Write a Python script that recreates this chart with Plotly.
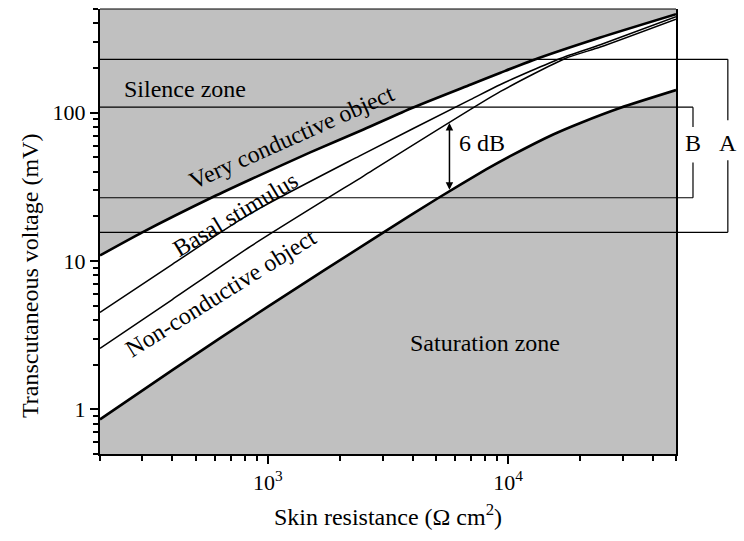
import numpy as np
import plotly.graph_objects as go

# Skin resistance (ohm cm^2) and transcutaneous voltage (mV) for each curve
very_cond_r = [200, 300, 590, 850, 1500, 2500, 4000, 7000, 9300, 12600, 24200, 50000]
very_cond_v = [10.9, 15.6, 27, 35.6, 54, 77, 108, 155, 186, 225, 321, 461]

basal_r = [200, 400, 850, 2400, 7000, 9300, 16500, 24200, 50000]
basal_v = [4.5, 9.5, 21, 51, 123, 155, 232, 287, 443]

non_cond_r = [200, 400, 850, 2500, 9300, 17300, 24200, 50000]
non_cond_v = [2.58, 5.5, 12.6, 37.4, 139, 232, 277, 427]

limit_r = [200, 400, 1000, 3030, 5140, 8100, 10200, 15400, 20000, 29400, 50000]
limit_v = [0.855, 1.84, 4.93, 15.6, 26.7, 41.4, 50.9, 71.3, 85.3, 108, 142]

# Voltage windows A and B (mV)
window_a = [15.6, 229]
window_b = [26.7, 109]

x_range = [np.log10(200), np.log10(50000)]
y_range = [np.log10(0.5), np.log10(500)]

x_major = [1e3, 1e4]
x_major_text = ["10<sup>3</sup>", "10<sup>4</sup>"]
y_major = [1, 10, 100]
y_major_text = ["1", "10", "100"]

x_minor = [m * d for d in (100, 1000, 10000) for m in range(2, 10)
           if 200 <= m * d <= 50000 and m * d not in x_major]
y_minor = [m * d for d in (0.1, 1, 10, 100) for m in range(2, 10)
           if 0.5 <= m * d <= 500]

FONT = "Liberation Serif"
GREY = "#c0c0c0"
SMOOTH = 0.6


def ypaper(v):
    return (np.log10(v) - y_range[0]) / (y_range[1] - y_range[0])


fig = go.Figure()

# white operating band between the two limiting curves
fig.add_trace(go.Scatter(
    x=limit_r, y=limit_v, mode="lines",
    line=dict(width=0, shape="spline", smoothing=SMOOTH),
    hoverinfo="skip", showlegend=False))
fig.add_trace(go.Scatter(
    x=very_cond_r, y=very_cond_v, mode="lines", fill="tonexty",
    fillcolor="white",
    line=dict(width=0, shape="spline", smoothing=SMOOTH),
    hoverinfo="skip", showlegend=False))

for xs, ys, w in [(very_cond_r, very_cond_v, 2.6),
                  (basal_r, basal_v, 1.5),
                  (non_cond_r, non_cond_v, 1.5),
                  (limit_r, limit_v, 2.6)]:
    fig.add_trace(go.Scatter(x=xs, y=ys, mode="lines",
                             line=dict(color="black", width=w,
                                       shape="spline", smoothing=SMOOTH),
                             showlegend=False))

# thin top frame line
shapes = [dict(type="line", xref="paper", yref="paper", x0=0, x1=1,
               y0=1, y1=1, line=dict(color="black", width=1))]

# windows A and B drawn as brackets reaching beyond the plot area
a_right, b_right = 1.09, 1.0295
for lo, hi, xr, gap in [(window_a[0], window_a[1], a_right, (0.66, 0.75)),
                        (window_b[0], window_b[1], b_right, (0.655, 0.735))]:
    for v in (lo, hi):
        shapes.append(dict(type="line", xref="paper", yref="paper",
                           x0=0, x1=xr, y0=ypaper(v), y1=ypaper(v),
                           line=dict(color="black", width=1.2)))
    shapes.append(dict(type="line", xref="paper", yref="paper",
                       x0=xr, x1=xr, y0=ypaper(hi), y1=gap[1],
                       line=dict(color="black", width=1.2)))
    shapes.append(dict(type="line", xref="paper", yref="paper",
                       x0=xr, x1=xr, y0=gap[0], y1=ypaper(lo),
                       line=dict(color="black", width=1.2)))

# 6 dB double arrow between the non-conductive line and the limit curve
arrow_r = 5700
lr = np.log10(arrow_r)
arrow_top = np.interp(lr, np.log10(non_cond_r), np.log10(non_cond_v))
arrow_bot = np.interp(lr, np.log10(limit_r), np.log10(limit_v))

tf = dict(family=FONT, size=24, color="black")


def label(x, y, text, angle=0, xanchor="center", font=tf):
    return dict(x=x, y=y, xref="paper", yref="paper", text=text,
                textangle=angle, xanchor=xanchor, yanchor="middle",
                showarrow=False, font=font)


annotations = [
    dict(x=lr, y=arrow_top, ax=lr, ay=arrow_bot, xref="x", yref="y",
         axref="x", ayref="y", text="", showarrow=True,
         arrowhead=2, startarrowhead=2, arrowside="end+start",
         arrowsize=1, arrowwidth=1.5, arrowcolor="black"),
    label(0.1476, 0.82, "Silence zone"),
    label(0.668, 0.249, "Saturation zone"),
    label(0.333, 0.712, "Very conductive object", -24),
    label(0.236, 0.539, "Basal stimulus", -31),
    label(0.21, 0.362, "Non-conductive object", -32),
    label(0.619, 0.699, "6 dB", xanchor="left"),
    label(b_right, 0.699, "B"),
    label(a_right, 0.699, "A"),
    # y-axis title
    label(-0.1215, 0.40, "Transcutaneous voltage (mV)", -90,
          font=dict(family=FONT, size=24, color="black")),
]

fig.update_layout(
    width=744, height=541,
    margin=dict(l=100, r=68, t=9, b=87),
    paper_bgcolor="white", plot_bgcolor=GREY,
    shapes=shapes, annotations=annotations,
    font=tf, showlegend=False,
)
fig.update_xaxes(
    type="log", range=x_range, showgrid=False, zeroline=False,
    showline=True, linecolor="black", linewidth=2, mirror=False,
    ticks="outside", ticklen=8, tickwidth=2, tickcolor="black",
    tickvals=x_major, ticktext=x_major_text,
    minor=dict(ticks="outside", ticklen=5, tickwidth=2, tickcolor="black",
               tickvals=x_minor, showgrid=False),
    title=dict(text="Skin resistance (Ω cm<sup>2</sup>)",
               font=dict(family=FONT, size=24, color="black"), standoff=14),
    tickfont=dict(family=FONT, size=22, color="black"),
)
fig.update_yaxes(
    type="log", range=y_range, showgrid=False, zeroline=False,
    showline=True, linecolor="black", linewidth=2, mirror=True,
    ticks="outside", ticklen=8, tickwidth=2, tickcolor="black",
    tickvals=y_major, ticktext=y_major_text,
    minor=dict(ticks="outside", ticklen=5, tickwidth=2, tickcolor="black",
               tickvals=y_minor, showgrid=False),
    tickfont=dict(family=FONT, size=22, color="black"),
)

fig.write_html("out.html")
